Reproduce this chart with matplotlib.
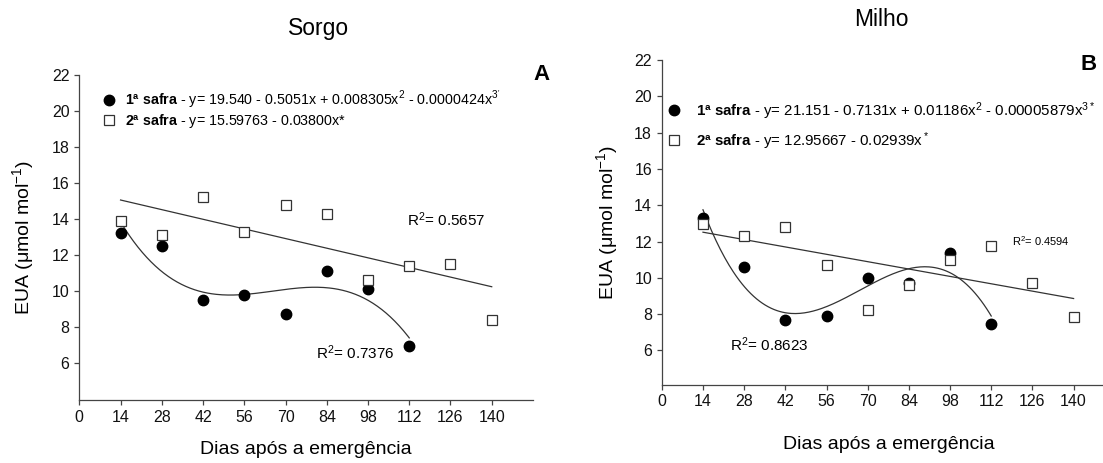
import numpy as np
import matplotlib
matplotlib.use("Agg")
import matplotlib.pyplot as plt

plt.rcParams['font.family'] = ['Liberation Sans', 'DejaVu Sans']
plt.rcParams['mathtext.fontset'] = 'custom'
plt.rcParams['mathtext.rm'] = 'Liberation Sans'
plt.rcParams['mathtext.bf'] = 'Liberation Sans:bold'
plt.rcParams['mathtext.it'] = 'Liberation Sans:italic'

# dias apos a emergencia
dias = [14, 28, 42, 56, 70, 84, 98, 112, 126, 140]

# Sorgo (A)
sorgo_1 = [13.2, 12.5, 9.5, 9.8, 8.7, 11.1, 10.1, 6.95]
sorgo_2 = [13.9, 13.1, 15.2, 13.3, 14.8, 14.3, 10.6, 11.4, 11.5, 8.4]

# Milho (B)
milho_1 = [13.3, 10.6, 7.65, 7.9, 10.0, 9.7, 11.35, 7.47]
milho_2 = [12.95, 12.3, 12.8, 10.7, 8.2, 9.6, 11.0, 11.75, 9.7, 7.85]

leg_sorgo = [r"$\mathbf{1ª\ safra}$ - y= 19.540 - 0.5051x + 0.008305x$^2$ - 0.0000424x$^{3'}$",
             r"$\mathbf{2ª\ safra}$ - y= 15.59763 - 0.03800x*"]
leg_milho = [r"$\mathbf{1ª\ safra}$ - y= 21.151 - 0.7131x + 0.01186x$^2$ - 0.00005879x$^{3*}$",
             r"$\mathbf{2ª\ safra}$ - y= 12.95667 - 0.02939x$^*$"]

xticks = np.arange(0, 141, 14)
yticks = np.arange(6, 23, 2)


def painel(ax, y1, y2, labels, xmax, ymin, r2_1, r2_2, r2_pos1, r2_pos2, r2_fs2,
           leg_anchor, leg_spacing, leg_pad, leg_fs):
    x1 = np.array(dias[:len(y1)])
    x2 = np.array(dias[:len(y2)])

    # ajustes (cubico para 1a safra, linear para 2a safra)
    c3 = np.polyfit(x1, y1, 3)
    xs = np.linspace(x1.min(), x1.max(), 200)
    ax.plot(xs, np.polyval(c3, xs), color='#333333', lw=0.9, zorder=2)
    c1 = np.polyfit(x2, y2, 1)
    xl = np.array([x2.min(), x2.max()])
    ax.plot(xl, np.polyval(c1, xl), color='#333333', lw=0.9, zorder=2)

    h1, = ax.plot(x1, y1, 'o', ms=7.5, color='black', zorder=3, linestyle='none')
    h2, = ax.plot(x2, y2, 's', ms=6.8, mfc='white', mec='#333333', mew=0.9,
                  zorder=4, linestyle='none')

    ax.legend([h1, h2], labels, loc='center left', bbox_to_anchor=leg_anchor,
              bbox_transform=ax.transData, frameon=False, fontsize=leg_fs,
              handlelength=1.0, handletextpad=leg_pad, labelspacing=leg_spacing,
              borderpad=0, borderaxespad=0)

    ax.text(r2_pos1[0], r2_pos1[1], r"R$^2$= " + r2_1, fontsize=11, va='center')
    ax.text(r2_pos2[0], r2_pos2[1], r"R$^2$= " + r2_2, fontsize=r2_fs2, va='center')

    ax.set_xlim(0, xmax)
    ax.set_ylim(ymin, 22)
    ax.set_xticks(xticks)
    ax.set_yticks(yticks)
    ax.tick_params(direction='out', length=3.5, width=0.9, labelsize=11.5,
                   color='#444444', labelcolor='#111111')
    for s in ['top', 'right']:
        ax.spines[s].set_visible(False)
    for s in ['left', 'bottom']:
        ax.spines[s].set_color('#444444')
        ax.spines[s].set_linewidth(0.9)
    ax.set_xlabel('Dias após a emergência', fontsize=14)
    ax.set_ylabel(r'EUA (μmol mol$^{-1}$)', fontsize=14)


fig = plt.figure(figsize=(11.03, 4.63), dpi=100)
axA = fig.add_axes([0.0719, 0.136, 0.4113, 0.702])
axB = fig.add_axes([0.600, 0.169, 0.400, 0.701])

painel(axA, sorgo_1, sorgo_2, leg_sorgo, 154, 3.95, '0.5657', '0.7376',
       (111.2, 13.94), (80.3, 6.57), 11, (7.7, 20.11), 0.12, 0.62, 10.3)
painel(axB, milho_1, milho_2, leg_milho, 150, 4.1, '0.8623', '0.4594',
       (23.2, 6.31), (119, 12.02), 8, (1.5, 18.38), 0.55, 1.0, 10.8)

axA.xaxis.set_label_coords(0.5, -0.125)
axA.yaxis.set_label_coords(-0.095, 0.5)
axB.xaxis.set_label_coords(0.514, -0.158)
axB.yaxis.set_label_coords(-0.095, 0.5)

fig.text(319 / 1103, 1 - 28 / 463, 'Sorgo', ha='center', va='center', fontsize=16.5)
fig.text(881.6 / 1103, 1 - 20 / 463, 'Milho', ha='center', va='center', fontsize=16.5)
fig.text(541 / 1103, 1 - 75 / 463, 'A', ha='center', va='center', fontsize=16, fontweight='bold')
fig.text(1089 / 1103, 1 - 65 / 463, 'B', ha='center', va='center', fontsize=16, fontweight='bold')

fig.savefig('out.png', dpi=100)
plt.close(fig)
